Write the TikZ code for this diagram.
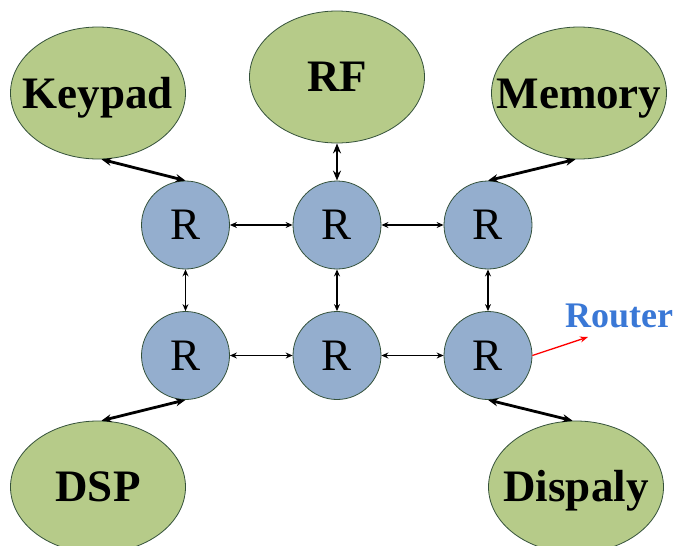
\documentclass[tikz,border=0pt]{standalone}
\usepackage{fontspec}
\setmainfont{Liberation Serif}
\usetikzlibrary{shapes.geometric,arrows.meta}
\definecolor{unitgreen}{HTML}{B6CB89}
\definecolor{routerblue}{HTML}{94AECE}
\definecolor{edgegreen}{HTML}{34513A}
\definecolor{labelblue}{HTML}{3A78D6}
\tikzset{
  unit/.style={ellipse, draw=edgegreen, line width=0.8pt, fill=unitgreen,
    minimum width=175pt, minimum height=132pt, inner sep=0pt},
  unittext/.style={font=\fontsize{45pt}{50pt}\selectfont\bfseries, inner sep=0pt, anchor=base},
  router/.style={circle, draw=edgegreen, line width=0.8pt, fill=routerblue,
    minimum size=88pt, inner sep=0pt, font=\fontsize{45pt}{50pt}\selectfont},
  link/.style={{Stealth[length=7pt,width=6pt]}-{Stealth[length=7pt,width=6pt]}, line width=1.1pt},
  tie/.style={{Stealth[length=10pt,width=8pt]}-{Stealth[length=10pt,width=8pt]}, line width=2.8pt},
  pointer/.style={-{Stealth[length=8pt,width=6pt]}, line width=1.3pt, red}
}
\begin{document}
\begin{tikzpicture}[x=1pt,y=-1pt]
\useasboundingbox (0,0) rectangle (673,546);

% functional units
\node[unit] (kp) at (98,93) {};
\node[unit] (rf) at (337,77) {};
\node[unit] (mem) at (579,93) {};
\node[unit] (dsp) at (98,487) {};
\node[unit] (disp) at (576,487) {};
\node[unittext] (kpt) at ([yshift=-15pt]kp.center) {Keypad};
\node[unittext] (rft) at ([yshift=-14pt]rf.center) {RF};
\node[unittext] (memt) at ([yshift=-15pt]mem.center) {Memory};
\node[unittext] (dspt) at ([yshift=-14pt]dsp.center) {DSP};
\node[unittext] (dispt) at ([yshift=-14pt]disp.center) {Dispaly};

% 2x3 router mesh
\node[router] (r11) at (185.5,225) {R};
\node[router] (r12) at (337,225) {R};
\node[router] (r13) at (488,225) {R};
\node[router] (r21) at (185.5,355.5) {R};
\node[router] (r22) at (337,355.5) {R};
\node[router] (r23) at (488,355.5) {R};

\draw[link] (r11.east) -- (r12.west);
\draw[link] (r12.east) -- (r13.west);
\draw[link] (r21.east) -- (r22.west);
\draw[link] (r22.east) -- (r23.west);
\draw[link] (r11.south) -- (r21.north);
\draw[link] (r12.south) -- (r22.north);
\draw[link] (r13.south) -- (r23.north);

% unit-to-router connections
\draw[tie] (kp.-87) -- (r11.north);
\draw[tie] (rf.south) -- (r12.north);
\draw[tie] (mem.-93) -- (r13.north);
\draw[tie] (dsp.87) -- (r21.south);
\draw[tie] (r23.south) -- (disp.93);

% router callout
\node[font=\fontsize{36pt}{40pt}\selectfont\bfseries, text=labelblue, inner sep=0pt, anchor=base west]
  (lbl) at (565,327) {Router};
\coordinate (tip) at (588,337);
\draw[pointer] (r23.east) -- (tip);
\end{tikzpicture}
\end{document}
